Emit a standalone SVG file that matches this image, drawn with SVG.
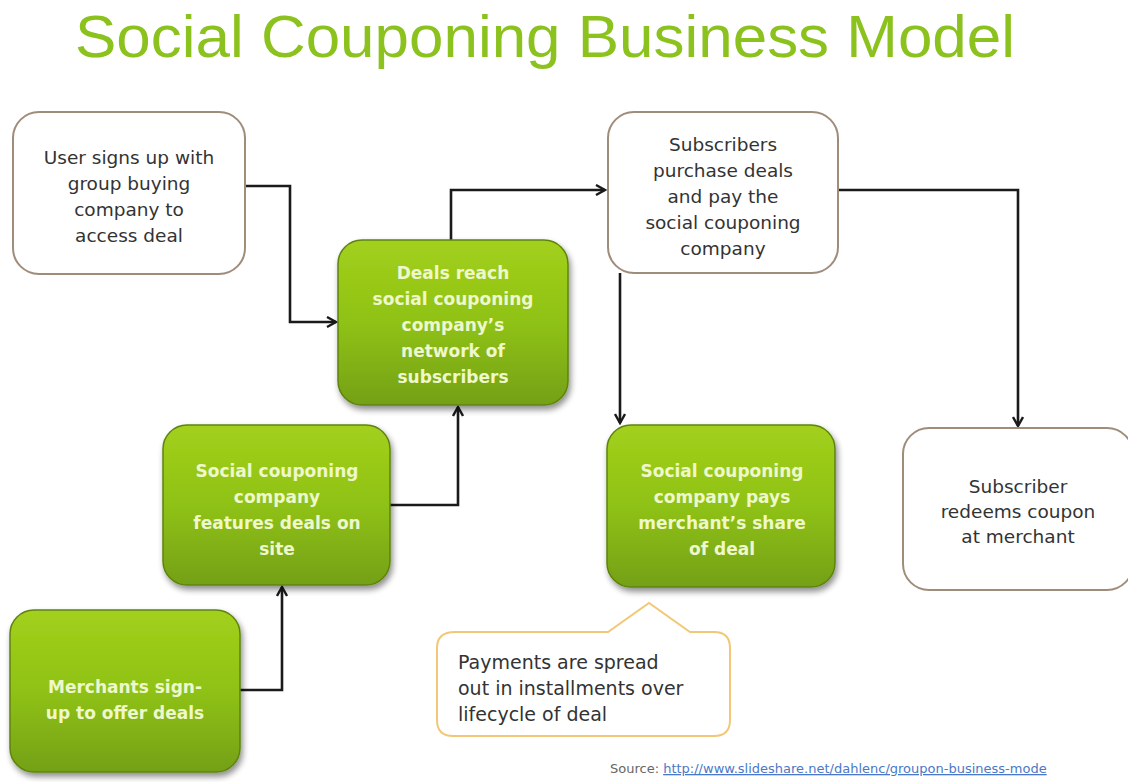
<svg xmlns="http://www.w3.org/2000/svg" width="1128" height="782" viewBox="0 0 1128 782">
  <defs>
    <linearGradient id="greenFill" x1="0" y1="0" x2="0" y2="1">
      <stop offset="0" stop-color="#a3d01c"/>
      <stop offset="0.5" stop-color="#8fc214"/>
      <stop offset="1" stop-color="#74a012"/>
    </linearGradient>
    <filter id="shadow" x="-10%" y="-10%" width="125%" height="130%">
      <feGaussianBlur in="SourceAlpha" stdDeviation="3"/>
      <feOffset dx="2" dy="4" result="b"/>
      <feComponentTransfer><feFuncA type="linear" slope="0.45"/></feComponentTransfer>
      <feMerge><feMergeNode/><feMergeNode in="SourceGraphic"/></feMerge>
    </filter>
    <marker id="arrow" viewBox="0 0 12 12" refX="10" refY="6" markerWidth="12" markerHeight="12" markerUnits="userSpaceOnUse" orient="auto">
      <path d="M1,1 L10,6 L1,11" fill="none" stroke="#1a1a1a" stroke-width="2.4"/>
    </marker>
  </defs>
  <style>
    .title { font-family: "Liberation Sans", Arial, sans-serif; font-size: 60px; fill: #8cc21e; }
    .white-box { fill: #ffffff; stroke: #a08c7a; stroke-width: 2; }
    .green-box { fill: url(#greenFill); stroke: #5e8410; stroke-width: 1.5; filter: url(#shadow); }
    .dark-text { font-family: "DejaVu Sans", Verdana, sans-serif; font-size: 18.5px; fill: #333333; text-anchor: middle; }
    .light-text { font-family: "DejaVu Sans", Verdana, sans-serif; font-size: 17px; font-weight: bold; fill: #eef8cc; text-anchor: middle; }
    .note { fill: #ffffff; stroke: #f2c878; stroke-width: 2; }
    .note-text { font-family: "DejaVu Sans", Verdana, sans-serif; font-size: 19px; fill: #333333; }
    .conn { fill: none; stroke: #1a1a1a; stroke-width: 2.6; marker-end: url(#arrow); }
    .src { font-family: "DejaVu Sans", Verdana, sans-serif; font-size: 13px; fill: #666666; }
    .src-link { fill: #4a78c8; text-decoration: underline; }
  </style>

  <rect width="1128" height="782" fill="#ffffff"/>

  <text class="title" x="75" y="57" textLength="940" lengthAdjust="spacingAndGlyphs">Social Couponing Business Model</text>

  <!-- connectors -->
  <g id="connectors">
    <path class="conn" d="M245,186 H290 V322 H336"/>
    <path class="conn" d="M451,240 V190 H605"/>
    <path class="conn" d="M838,190 H1018 V426"/>
    <path class="conn" d="M620,273 V423"/>
    <path class="conn" d="M390,505 H458 V407"/>
    <path class="conn" d="M240,690 H282 V587"/>
  </g>

  <g id="user-signs-up">
    <rect class="white-box" x="13" y="112" width="232" height="162" rx="26"/>
    <text class="dark-text" x="129" y="164">User signs up with</text>
    <text class="dark-text" x="129" y="190">group buying</text>
    <text class="dark-text" x="129" y="216">company to</text>
    <text class="dark-text" x="129" y="242">access deal</text>
  </g>

  <g id="deals-reach">
    <rect class="green-box" x="338" y="240" width="230" height="165" rx="24"/>
    <text class="light-text" x="453" y="279">Deals reach</text>
    <text class="light-text" x="453" y="305">social couponing</text>
    <text class="light-text" x="453" y="331">company’s</text>
    <text class="light-text" x="453" y="357">network of</text>
    <text class="light-text" x="453" y="383">subscribers</text>
  </g>

  <g id="subscribers-purchase">
    <rect class="white-box" x="608" y="112" width="230" height="161" rx="26"/>
    <text class="dark-text" x="723" y="151">Subscribers</text>
    <text class="dark-text" x="723" y="177">purchase deals</text>
    <text class="dark-text" x="723" y="203">and pay the</text>
    <text class="dark-text" x="723" y="229">social couponing</text>
    <text class="dark-text" x="723" y="255">company</text>
  </g>

  <g id="features-deals">
    <rect class="green-box" x="163" y="425" width="227" height="160" rx="24"/>
    <text class="light-text" x="277" y="477">Social couponing</text>
    <text class="light-text" x="277" y="503">company</text>
    <text class="light-text" x="277" y="529">features deals on</text>
    <text class="light-text" x="277" y="555">site</text>
  </g>

  <g id="pays-merchant">
    <rect class="green-box" x="607" y="425" width="228" height="162" rx="24"/>
    <text class="light-text" x="722" y="477">Social couponing</text>
    <text class="light-text" x="722" y="503">company pays</text>
    <text class="light-text" x="722" y="529">merchant’s share</text>
    <text class="light-text" x="722" y="555">of deal</text>
  </g>

  <g id="redeems-coupon">
    <rect class="white-box" x="903" y="428" width="230" height="162" rx="26"/>
    <text class="dark-text" x="1018" y="493">Subscriber</text>
    <text class="dark-text" x="1018" y="518">redeems coupon</text>
    <text class="dark-text" x="1018" y="543">at merchant</text>
  </g>

  <g id="merchants-sign-up">
    <rect class="green-box" x="10" y="610" width="230" height="162" rx="24"/>
    <text class="light-text" x="125" y="693">Merchants sign-</text>
    <text class="light-text" x="125" y="719">up to offer deals</text>
  </g>

  <g id="payments-note">
    <path class="note" d="M455,632 H608 L649,603 L690,632 H714 Q730,632 730,648 V720 Q730,736 714,736 H453 Q437,736 437,720 V648 Q437,632 455,632 Z"/>
    <text class="note-text" x="458" y="669">Payments are spread</text>
    <text class="note-text" x="458" y="695">out in installments over</text>
    <text class="note-text" x="458" y="721">lifecycle of deal</text>
  </g>

  <text class="src" x="610" y="773">Source: <tspan class="src-link">http://www.slideshare.net/dahlenc/groupon-business-mode</tspan></text>
</svg>
